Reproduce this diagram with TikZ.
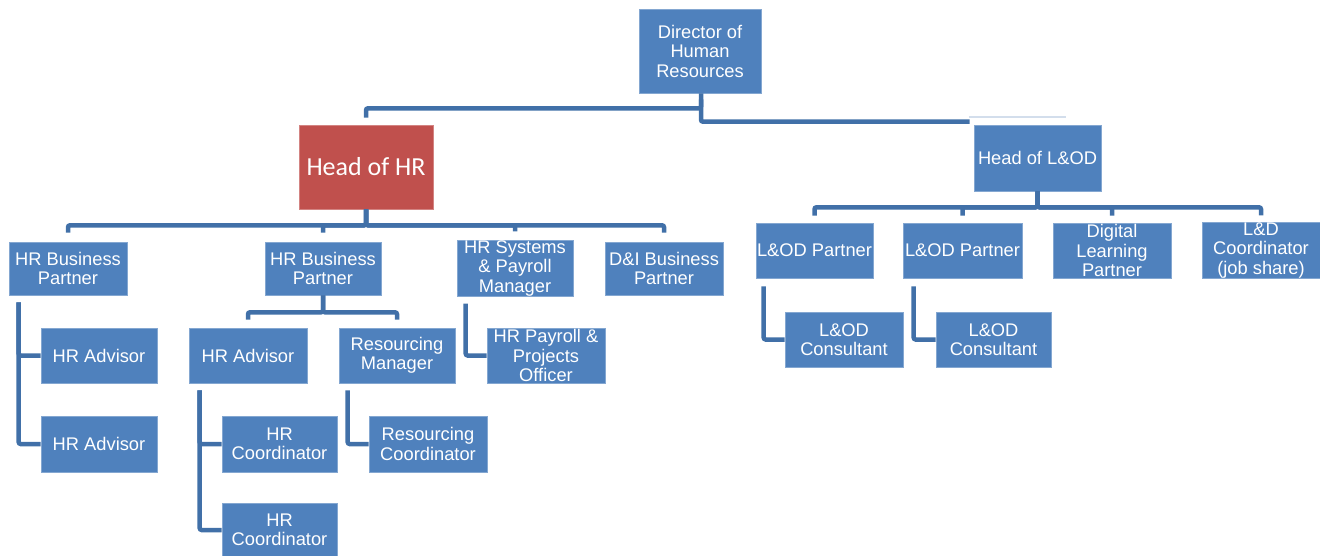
\documentclass[tikz,border=0pt]{standalone}
\usepackage{fontspec}
\setmainfont{Liberation Sans}
\newfontfamily\headfont{Carlito}
\usetikzlibrary{calc}
\definecolor{boxblue}{HTML}{4F81BD}
\definecolor{boxred}{HTML}{C0504D}
\definecolor{connblue}{HTML}{4170A8}
\definecolor{connlight}{HTML}{D3DEEC}
\tikzset{
  box/.style={fill=boxblue, draw=boxblue!70!white, line width=0.6pt, text=white, align=center, inner sep=0pt,
    font=\fontsize{18.3}{19.5}\selectfont},
  redbox/.style={box, fill=boxred, draw=boxred!70!white, font=\headfont\fontsize{26}{28}\selectfont},
  conn/.style={draw=connblue, line width=4.5pt, rounded corners=2pt, line cap=butt},
  faint/.style={draw=connlight, line width=2pt}
}
\newcommand{\bx}[7]{\node[#1, minimum width=#4-#3, minimum height=#6-#5] (#2) at ({(#3+#4)/2},{(#5+#6)/2}) {#7};}
\begin{document}
\begin{tikzpicture}[x=1pt,y=-1pt]
\useasboundingbox (0,0) rectangle (1320,555);
\begin{scope}
\clip (0,0) rectangle (1320,555);
% nodes
\bx{box}{dir}{639}{761}{9}{93}{Director of\\Human\\Resources}
\bx{redbox}{hhr}{299}{433}{125}{209}{Head of HR}
\bx{box}{hlod}{974}{1101}{125}{191}{Head of L\&OD}

% director connectors
\draw[conn] ($(dir.south)+(1,0)$) -- ++(0,15) -| ($(hhr.north)+(0,-7)$);
\draw[faint] ($(hlod.north west)+(-5,-8)$) -- ($(hlod.north)+(28,-8)$);
\draw[conn] ($(dir.south)+(1,6)$) |- ($(hlod.north west)+(-4,-3)$);

\bx{box}{bpa}{9}{127}{242}{295}{HR Business\\Partner}
\bx{box}{bpb}{265}{381}{242}{295}{HR Business\\Partner}
\bx{box}{sys}{457}{573}{242}{295}{HR Systems\\\& Payroll\\Manager}
\bx{box}{dni}{605}{723}{242}{295}{D\&I Business\\Partner}

\bx{box}{lpa}{756}{873}{223}{278}{L\&OD Partner}
\bx{box}{lpb}{903}{1022}{223}{278}{L\&OD Partner}
\bx{box}{dlp}{1053}{1171}{223}{278}{Digital\\Learning\\Partner}
\bx{box}{ldc}{1202}{1320}{223}{278}{L\&D\\Coordinator\\(job share)}

\bx{box}{lca}{785}{903}{312}{367}{L\&OD\\Consultant}
\bx{box}{lcb}{936}{1051}{312}{367}{L\&OD\\Consultant}

\bx{box}{adva}{41}{157}{328}{383}{HR Advisor}
\bx{box}{advb}{41}{157}{416}{472}{HR Advisor}
\bx{box}{advc}{189}{307}{328}{383}{HR Advisor}
\bx{box}{resm}{339}{455}{328}{383}{Resourcing\\Manager}
\bx{box}{pay}{487}{605}{328}{383}{HR Payroll \&\\Projects\\Officer}
\bx{box}{coa}{222}{337}{416}{472}{HR\\Coordinator}
\bx{box}{cob}{222}{337}{503}{557}{HR\\Coordinator}
\bx{box}{resc}{369}{487}{416}{472}{Resourcing\\Coordinator}

% Head of HR children
\foreach \c in {bpa,bpb,sys,dni}
  \draw[conn] (hhr.south) -- ++(0,16) -| ($(\c.north)+(0,-9)$);
% Head of L&OD children
\foreach \c in {lpa,lpb,dlp,ldc}
  \draw[conn] (hlod.south) -- ++(0,16) -| ($(\c.north)+(0,-7)$);
% HRBP 2 children
\foreach \c in {advc,resm}
  \draw[conn] (bpb.south) -- ++(0,17) -| ($(\c.north)+(0,-8)$);
% side connectors
\draw[conn] ($(bpa.south west)+(10,7)$) |- (adva.west);
\draw[conn] ($(bpa.south west)+(10,7)$) |- (advb.west);
\draw[conn] ($(sys.south west)+(9,7)$) |- (pay.west);
\draw[conn] ($(advc.south west)+(11,7)$) |- (coa.west);
\draw[conn] ($(advc.south west)+(11,7)$) |- (cob.west);
\draw[conn] ($(resm.south west)+(9,7)$) |- (resc.west);
\draw[conn] ($(lpa.south west)+(8,8)$) |- (lca.west);
\draw[conn] ($(lpb.south west)+(11,8)$) |- (lcb.west);
\end{scope}
\end{tikzpicture}
\end{document}
